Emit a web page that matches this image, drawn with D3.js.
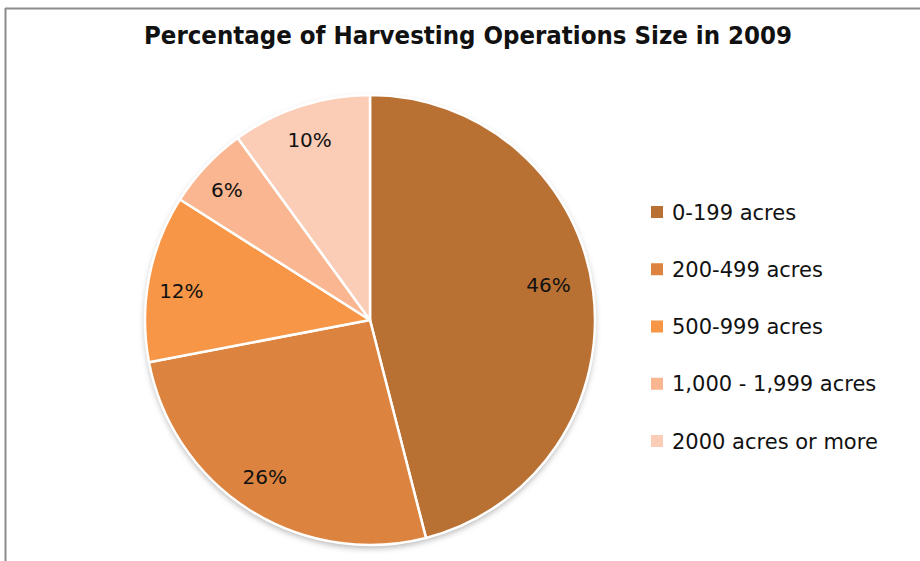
<!DOCTYPE html>
<head>
  <meta charset="utf-8">
  <style>
    body { margin: 0; background: #fff; }
    text { font-family: "DejaVu Sans", "Liberation Sans", sans-serif; fill: #111; }
  </style>
  <script src="https://cdn.jsdelivr.net/npm/d3@7"></script>
</head>
<body>
  <script>
    const categories = ['0-199 acres', '200-499 acres', '500-999 acres', '1,000 - 1,999 acres', '2000 acres or more'];
    const values = [46, 26, 12, 6, 10];
    const colors = ['#b87033', '#dc843f', '#f79646', '#f9b690', '#fbcdb7'];

    const w = 920, h = 561;
    const cx = 370, cy = 320, r = 225;

    const svg = d3.select('body').append('svg')
      .attr('width', w)
      .attr('height', h);

    // frame (top and left edges show)
    svg.append('line').attr('x1', 5).attr('x2', w).attr('y1', 8.5).attr('y2', 8.5)
      .attr('stroke', '#8c8c8c').attr('stroke-width', 2);
    svg.append('line').attr('x1', 5.5).attr('x2', 5.5).attr('y1', 8).attr('y2', h)
      .attr('stroke', '#8c8c8c').attr('stroke-width', 2);

    svg.append('text')
      .attr('x', 468).attr('y', 44)
      .attr('text-anchor', 'middle')
      .attr('font-family', '"Liberation Sans", sans-serif')
      .attr('font-size', '25px')
      .attr('font-weight', 'bold')
      .attr('textLength', 648)
      .attr('lengthAdjust', 'spacingAndGlyphs')
      .text('Percentage of Harvesting Operations Size in 2009');

    const defs = svg.append('defs');
    const f = defs.append('filter').attr('id', 'shadow').attr('x', '-10%').attr('y', '-10%').attr('width', '120%').attr('height', '120%');
    f.append('feDropShadow').attr('dx', 0).attr('dy', 3).attr('stdDeviation', 3).attr('flood-color', '#000').attr('flood-opacity', 0.3);

    const pie = d3.pie().sort(null).value(d => d);
    const arcs = pie(values);
    const arc = d3.arc().innerRadius(0).outerRadius(r);

    const g = svg.append('g').attr('transform', `translate(${cx},${cy})`);

    g.append('circle').attr('r', r).attr('fill', '#fff').attr('filter', 'url(#shadow)');

    g.selectAll('path')
      .data(arcs)
      .enter()
      .append('path')
      .attr('d', arc)
      .attr('fill', (d, i) => colors[i])
      .attr('stroke', '#fff')
      .attr('stroke-width', 2.5)
      .attr('stroke-linejoin', 'round');

    // label radius fraction and small nudge, like excel's best-fit placement
    const labelPos = [0.80, 0.84, 0.84, 0.86, 0.84];
    const labelNudge = [[0, -13], [-4, -3], [-3, 6], [-2, 2], [-2, 0]];
    g.selectAll('text.lbl')
      .data(arcs)
      .enter()
      .append('text')
      .attr('class', 'lbl')
      .attr('transform', (d, i) => {
        const a = d3.arc().innerRadius(r * labelPos[i]).outerRadius(r * labelPos[i]);
        const c = a.centroid(d);
        return `translate(${c[0] + labelNudge[i][0]},${c[1] + labelNudge[i][1]})`;
      })
      .attr('text-anchor', 'middle')
      .attr('dy', '0.36em')
      .attr('font-size', '20px')
      .text(d => d.value + '%');

    const legend = svg.append('g');
    const rowY = d3.scalePoint().domain(categories).range([212, 441]);
    legend.selectAll('rect')
      .data(categories)
      .enter()
      .append('rect')
      .attr('x', 651)
      .attr('y', d => rowY(d) - 6)
      .attr('width', 12)
      .attr('height', 12)
      .attr('fill', (d, i) => colors[i]);
    legend.selectAll('text')
      .data(categories)
      .enter()
      .append('text')
      .attr('x', 672)
      .attr('y', d => rowY(d))
      .attr('dy', '0.36em')
      .attr('font-size', '21px')
      .text(d => d);
  </script>
</body>
